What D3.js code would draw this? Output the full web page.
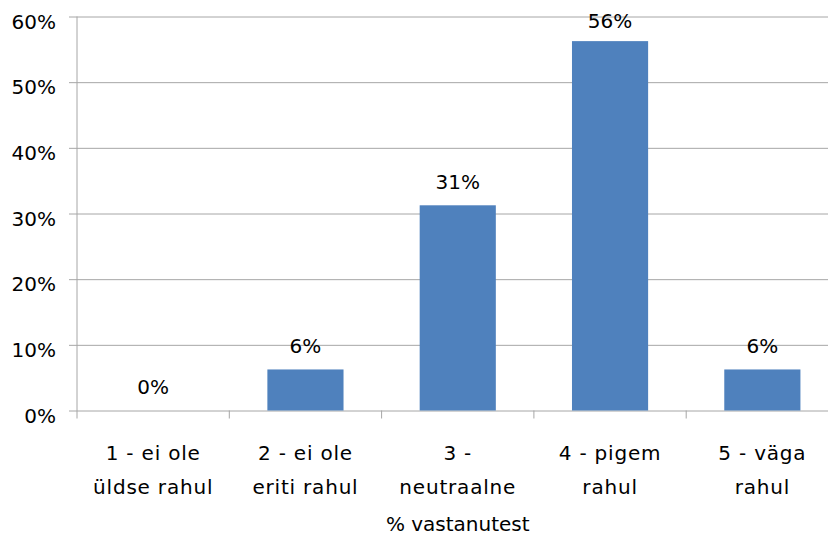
<!DOCTYPE html>
<html>
<head>
<meta charset="utf-8">
<script src="https://cdn.jsdelivr.net/npm/d3@7/dist/d3.min.js"></script>
<style>
  html, body { margin: 0; padding: 0; background: #fff; }
  svg { display: block; }
  text { font-family: "DejaVu Sans", sans-serif; fill: #000; }
</style>
</head>
<body>
<div id="chart"></div>
<script>
// Rahulolu jaotus vastanute seas
const categories = [
  ["1 - ei ole", "üldse rahul"],
  ["2 - ei ole", "eriti rahul"],
  ["3 -", "neutraalne"],
  ["4 - pigem", "rahul"],
  ["5 - väga", "rahul"]
];
const values = [0, 6.25, 31.25, 56.25, 6.25];
const yTicks = [0, 10, 20, 30, 40, 50, 60];
const axisTitle = "% vastanutest";

const width = 828, height = 535;
const margin = { top: 16.5, left: 77, bottom: 124.5 };
const plotW = 761.5;
const plotH = height - margin.top - margin.bottom;
const fontSize = "20px";

const svg = d3.select("#chart").append("svg")
  .attr("width", width).attr("height", height);

const g = svg.append("g").attr("transform", `translate(${margin.left},${margin.top})`);

const x = d3.scaleBand()
  .domain(d3.range(categories.length))
  .range([0, plotW])
  .paddingInner(0.5).paddingOuter(0.25);

const y = d3.scaleLinear().domain([0, 60]).range([plotH, 0]);

const gridColor = "#a6a6a6";

// Horizontal gridlines with outward ticks and labels
const yAxis = g.append("g")
  .call(d3.axisLeft(y).tickValues(yTicks).tickSize(-plotW - 8).tickFormat(d => d + "%"))
  .call(s => s.select(".domain").remove());
yAxis.selectAll(".tick line")
  .attr("x1", -8).attr("x2", plotW)
  .attr("stroke", gridColor).attr("stroke-width", 1);
yAxis.selectAll(".tick text")
  .attr("x", -21).attr("dy", 11.5)
  .style("font-size", fontSize).style("font-family", "'DejaVu Sans', sans-serif")
  .attr("fill", "#000");

// Vertical axis line
g.append("line")
  .attr("x1", 0).attr("x2", 0).attr("y1", 0).attr("y2", plotH + 8)
  .attr("stroke", gridColor);

// Category boundary ticks
const step = x.step();
g.selectAll(".cat-tick")
  .data(d3.range(1, categories.length + 1))
  .join("line")
  .attr("x1", d => x(0) - step * 0.25 + d * step)
  .attr("x2", d => x(0) - step * 0.25 + d * step)
  .attr("y1", plotH).attr("y2", plotH + 8)
  .attr("stroke", gridColor);

// Bars
g.selectAll(".bar")
  .data(values)
  .join("rect")
  .attr("x", (d, i) => x(i))
  .attr("width", x.bandwidth())
  .attr("y", d => y(d))
  .attr("height", d => plotH - y(d))
  .attr("fill", "#4f81bd");

// Value labels, kept inside the chart area at the top
g.selectAll(".val")
  .data(values)
  .join("text")
  .attr("x", (d, i) => x(i) + x.bandwidth() / 2)
  .attr("y", d => Math.max(y(d) - 16.5, 11.8))
  .attr("text-anchor", "middle")
  .style("font-size", fontSize)
  .text(d => Math.round(d) + "%");

// Category labels
const catLabels = g.selectAll(".cat")
  .data(categories)
  .join("text")
  .attr("text-anchor", "middle")
  .style("font-size", fontSize)
  .style("letter-spacing", "0.8px")
  .attr("transform", (d, i) => `translate(${x(i) + x.bandwidth() / 2},${plotH + 49.5})`);
catLabels.selectAll("tspan")
  .data(d => d)
  .join("tspan")
  .attr("x", 0)
  .attr("y", (d, j) => j * 33.5)
  .text(d => d);

// Axis title
g.append("text")
  .attr("x", plotW / 2)
  .attr("y", plotH + 120)
  .attr("text-anchor", "middle")
  .style("font-size", fontSize)
  .text(axisTitle);
</script>
</body>
</html>
